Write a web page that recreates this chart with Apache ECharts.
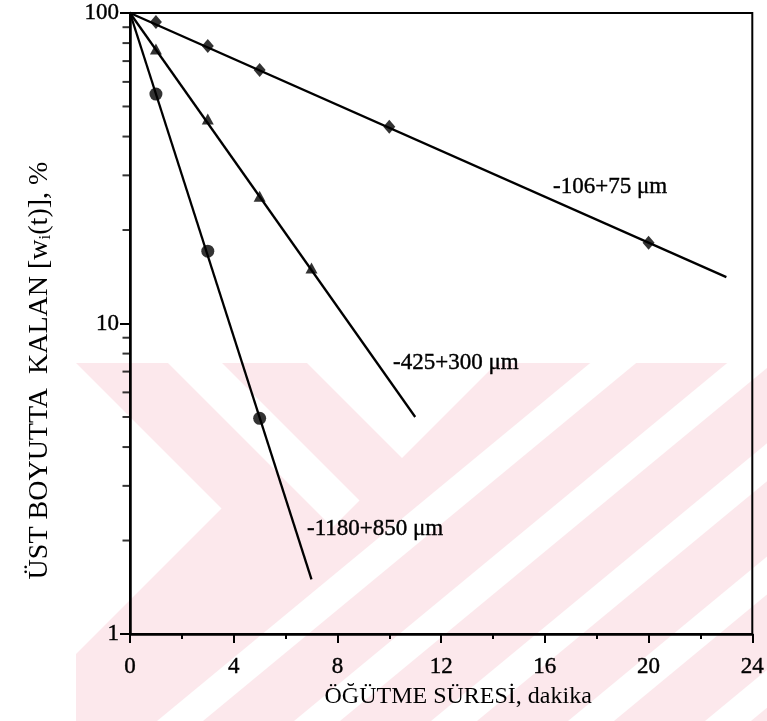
<!DOCTYPE html>
<html>
<head>
<meta charset="utf-8">
<script src="https://cdn.jsdelivr.net/npm/echarts@6/dist/echarts.min.js"></script>
<style>
html, body { margin: 0; padding: 0; background: #fff; }
#chart { width: 767px; height: 721px; }
</style>
</head>
<body>
<div id="chart"></div>
<script>
/* 数据 */
// -106+75 µm
const fineT = [1, 3, 5, 10, 20];
const fineW = [93.5, 78.3, 65.5, 43.0, 18.2];
const fineFit = [[0, 100], [23, 14.1]];
// -425+300 µm
const midT = [1, 3, 5, 7];
const midW = [76.5, 45.6, 25.7, 15.1];
const midFit = [[0, 100], [11, 5.0]];
// -1180+850 µm
const coarseT = [1, 3, 5];
const coarseW = [54.8, 17.1, 4.95];
const coarseFit = [[0, 100], [7, 1.5]];

const sizeLabels = ['-106+75 μm', '-425+300 μm', '-1180+850 μm'];
const yMinorTicks = [2, 3, 4, 5, 6, 7, 8, 9, 20, 30, 40, 50, 60, 70, 80, 90];

const FONT = 'Liberation Serif';
const pink = '#fce8ec';

function pairs(xs, ys) {
    return xs.map((x, i) => [x, ys[i]]);
}

// 背景水印 (扫描件上的淡红色条纹)
const WM = { x0: 76, y0: 363, x1: 767, y1: 721 };
function pt(c, d) { return [(c + d) / 2, (c - d) / 2]; }
function clipPoly(poly) {
    const edges = [
        p => p[0] >= WM.x0, p => p[0] <= WM.x1, p => p[1] >= WM.y0, p => p[1] <= WM.y1
    ];
    const cut = [
        (a, b) => { const t = (WM.x0 - a[0]) / (b[0] - a[0]); return [WM.x0, a[1] + t * (b[1] - a[1])]; },
        (a, b) => { const t = (WM.x1 - a[0]) / (b[0] - a[0]); return [WM.x1, a[1] + t * (b[1] - a[1])]; },
        (a, b) => { const t = (WM.y0 - a[1]) / (b[1] - a[1]); return [a[0] + t * (b[0] - a[0]), WM.y0]; },
        (a, b) => { const t = (WM.y1 - a[1]) / (b[1] - a[1]); return [a[0] + t * (b[0] - a[0]), WM.y1]; }
    ];
    let out = poly;
    for (let k = 0; k < 4; k++) {
        const inp = out;
        out = [];
        for (let i = 0; i < inp.length; i++) {
            const cur = inp[i], prev = inp[(i + inp.length - 1) % inp.length];
            const ci = edges[k](cur), pi = edges[k](prev);
            if (ci) {
                if (!pi) out.push(cut[k](prev, cur));
                out.push(cur);
            } else if (pi) {
                out.push(cut[k](prev, cur));
            }
        }
        if (!out.length) break;
    }
    return out;
}
// 右侧 "/" 白条: 底边起点与宽度
function slash(b, w) {
    const H = 500, k = 1.21;
    return [[b, 721], [b + w, 721], [b + w + k * H, 721 - H], [b + k * H, 721 - H]];
}
const wmWhite = [
    [pt(860, -56), pt(860, 1200), pt(-400, 1200), pt(-400, -56)],
    [pt(860, -141), pt(860, -195), pt(-400, -195), pt(-400, -141)],
    [pt(730, -287), pt(730, -1400), pt(-400, -1400), pt(-400, -287)],
    slash(157, 46),
    slash(294, 46),
    slash(431, 46),
    slash(568, 46),
    slash(705, 46)
].map(clipPoly).filter(p => p.length > 2);

var chart = echarts.init(document.getElementById('chart'));

const labelStyle = { fontFamily: FONT, fontSize: 23, color: '#000', textBorderColor: '#000', textBorderWidth: 0.4 };

var option = {
    backgroundColor: '#fff',
    animation: false,
    graphic: [
        {
            type: 'rect', z: -20, silent: true,
            shape: { x: WM.x0, y: WM.y0, width: WM.x1 - WM.x0, height: WM.y1 - WM.y0 },
            style: { fill: pink }
        },
        ...wmWhite.map(p => ({ type: 'polygon', z: -19, silent: true, shape: { points: p }, style: { fill: '#fff' } })),
        { type: 'text', x: 553, y: 187, z: 10, style: { text: sizeLabels[0], font: '23px ' + FONT, fill: '#000', stroke: '#000', lineWidth: 0.4, verticalAlign: 'middle' } },
        { type: 'text', x: 393, y: 363, z: 10, style: { text: sizeLabels[1], font: '23px ' + FONT, fill: '#000', stroke: '#000', lineWidth: 0.4, verticalAlign: 'middle' } },
        { type: 'text', x: 307, y: 529, z: 10, style: { text: sizeLabels[2], font: '23px ' + FONT, fill: '#000', stroke: '#000', lineWidth: 0.4, verticalAlign: 'middle' } }
    ],
    grid: {
        left: 130,
        right: 9,
        top: 13,
        bottom: 87,
        show: true,
        borderColor: '#000',
        borderWidth: 2,
        backgroundColor: 'transparent'
    },
    xAxis: {
        type: 'value',
        min: 0,
        max: 24,
        interval: 4,
        name: 'ÖĞÜTME SÜRESİ, dakika',
        nameLocation: 'middle',
        nameGap: 51,
        nameTextStyle: { fontFamily: FONT, fontSize: 24, color: '#000', padding: [0, 0, 0, 34] },
        axisLine: { lineStyle: { color: '#000', width: 2.5 } },
        axisTick: { length: 9, lineStyle: { color: '#000', width: 2 } },
        minorTick: { show: true, splitNumber: 2, length: 5, lineStyle: { color: '#000', width: 2 } },
        axisLabel: Object.assign({ margin: 21 }, labelStyle),
        splitLine: { show: false }
    },
    yAxis: {
        type: 'log',
        logBase: 10,
        min: 1,
        max: 100,
        name: 'ÜST BOYUTTA  KALAN [w{sub|i}(t)], %',
        nameLocation: 'middle',
        nameGap: 76,
        nameTextStyle: {
            fontFamily: FONT, fontSize: 28, color: '#000', padding: [0, 94, 0, 0],
            rich: { sub: { fontFamily: FONT, fontSize: 17, color: '#000', verticalAlign: 'bottom' } }
        },
        axisLine: { lineStyle: { color: '#000', width: 2.5 } },
        axisTick: { length: 10, lineStyle: { color: '#000', width: 2 } },
        axisLabel: Object.assign({ margin: 11 }, labelStyle),
        splitLine: { show: false }
    },
    series: [
        {
            // 对数轴次刻度
            type: 'scatter',
            data: yMinorTicks.map(v => [0, v]),
            symbol: 'rect',
            symbolSize: [7, 2],
            symbolOffset: [-4, 0],
            itemStyle: { color: '#000' },
            clip: false,
            silent: true,
            z: 5
        },
        {
            type: 'line', data: fineFit, showSymbol: false, symbol: 'none',
            lineStyle: { color: '#000', width: 2.3 }, silent: true
        },
        {
            type: 'line', data: midFit, showSymbol: false, symbol: 'none',
            lineStyle: { color: '#000', width: 2.3 }, silent: true
        },
        {
            type: 'line', data: coarseFit, showSymbol: false, symbol: 'none',
            lineStyle: { color: '#000', width: 2.3 }, silent: true
        },
        {
            name: sizeLabels[0], type: 'scatter', data: pairs(fineT, fineW),
            symbol: 'diamond', symbolSize: [12, 14], itemStyle: { color: '#000' }, z: 4
        },
        {
            name: sizeLabels[1], type: 'scatter', data: pairs(midT, midW),
            symbol: 'triangle', symbolSize: [12, 11], itemStyle: { color: '#000' }, z: 4
        },
        {
            name: sizeLabels[2], type: 'scatter', data: pairs(coarseT, coarseW),
            symbol: 'circle', symbolSize: 13, itemStyle: { color: '#000' }, z: 4
        }
    ]
};

chart.setOption(option);
</script>
</body>
</html>
